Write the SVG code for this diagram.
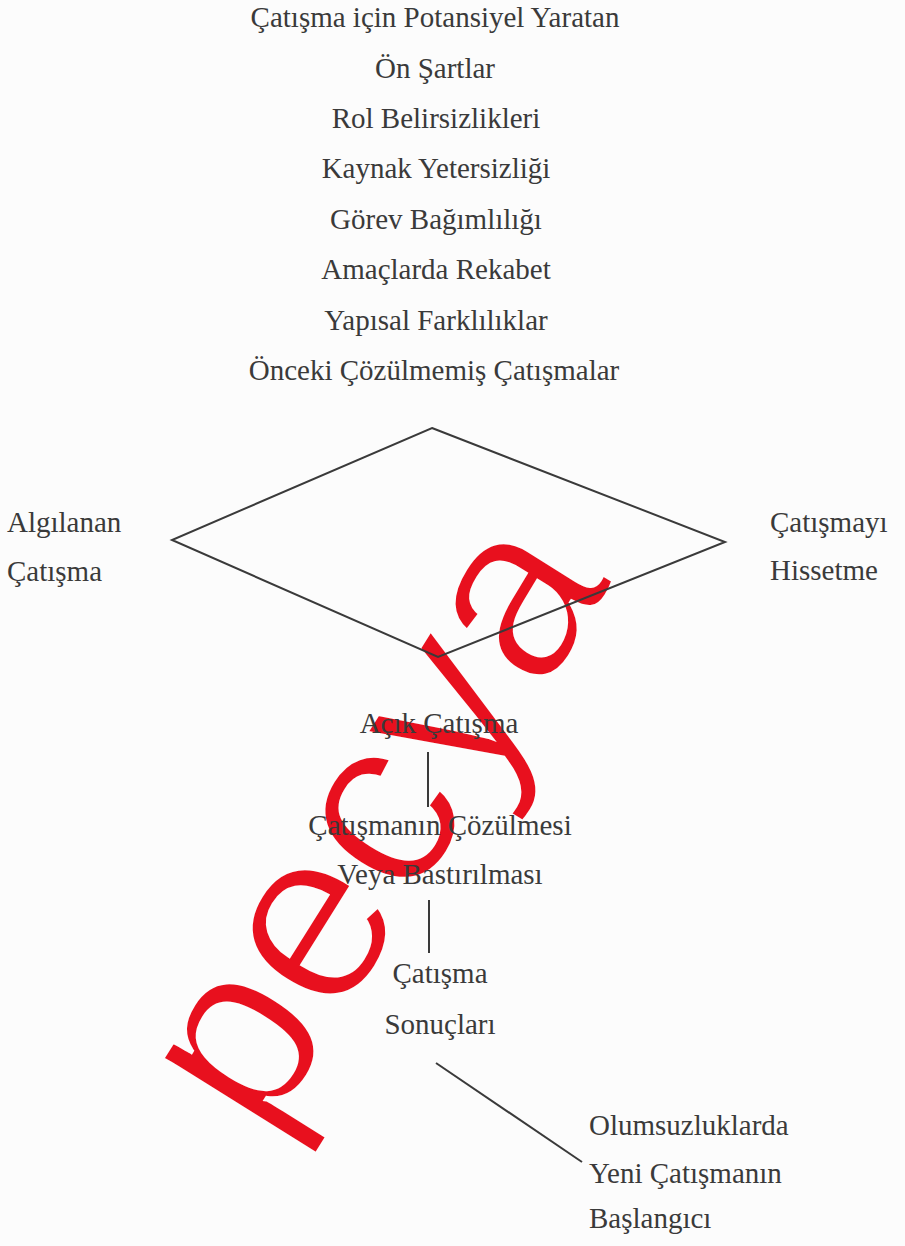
<svg xmlns="http://www.w3.org/2000/svg" width="905" height="1246" viewBox="0 0 905 1246">
<style>
text{font-family:"Liberation Serif","Times New Roman",serif;font-size:29px;fill:#3a3a3a}
.c{text-anchor:middle}
.ln{stroke:#3a3a3a;fill:none;stroke-width:2}
.wm{font-family:"Liberation Sans",Arial,sans-serif;font-size:248px;fill:#e8101e;stroke:#fcfcfc;stroke-width:5}
</style>
<rect width="905" height="1246" fill="#fcfcfc"/>
<text class="wm" transform="translate(264,1142) rotate(-58)">pecya</text>
<g id="preconditions">
<text class="c" x="435" y="27">Çatışma için Potansiyel Yaratan</text>
<text class="c" x="435" y="78">Ön Şartlar</text>
<text class="c" x="436" y="128">Rol Belirsizlikleri</text>
<text class="c" x="436" y="178">Kaynak Yetersizliği</text>
<text class="c" x="436" y="229">Görev Bağımlılığı</text>
<text class="c" x="436" y="279">Amaçlarda Rekabet</text>
<text class="c" x="436" y="330">Yapısal Farklılıklar</text>
<text class="c" x="434" y="380">Önceki Çözülmemiş Çatışmalar</text>
</g>
<g id="diamond">
<polygon class="ln" points="432,428 725,542 438,657 172,540"/>
</g>
<g id="perceived">
<text x="7" y="532">Algılanan</text>
<text x="7" y="581">Çatışma</text>
</g>
<g id="felt">
<text x="770" y="532">Çatışmayı</text>
<text x="770" y="580">Hissetme</text>
</g>
<g id="manifest">
<text class="c" x="439" y="733">Açık Çatışma</text>
</g>
<g id="resolution">
<text class="c" x="440" y="835">Çatışmanın Çözülmesi</text>
<text class="c" x="440" y="884">Veya Bastırılması</text>
</g>
<g id="aftermath">
<text class="c" x="440" y="983">Çatışma</text>
<text class="c" x="440" y="1034">Sonuçları</text>
</g>
<g id="newconflict">
<text x="589" y="1135">Olumsuzluklarda</text>
<text x="589" y="1183">Yeni Çatışmanın</text>
<text x="589" y="1228">Başlangıcı</text>
</g>
<g id="connectors">
<line class="ln" x1="428" y1="752" x2="428" y2="807"/>
<line class="ln" x1="429" y1="900" x2="429" y2="953"/>
<line class="ln" x1="436" y1="1063" x2="582" y2="1162"/>
</g>
</svg>
